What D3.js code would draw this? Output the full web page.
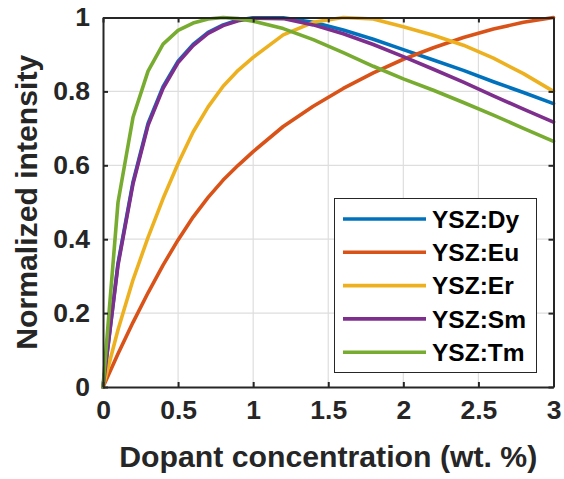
<!DOCTYPE html>
<html>
<head>
<meta charset="utf-8">
<script src="https://cdn.jsdelivr.net/npm/d3@7/dist/d3.min.js"></script>
<style>
  html, body { margin: 0; padding: 0; background: #fff; }
  svg { display: block; }
  text { font-family: "Liberation Sans", Arial, Helvetica, sans-serif; font-weight: bold; }
</style>
</head>
<body>
<svg id="chart" width="564" height="479"></svg>
<script>
// ---- data ----
const xValues = [0, 0.1, 0.2, 0.3, 0.4, 0.5, 0.6, 0.7, 0.8, 0.9, 1.0, 1.2, 1.4, 1.6, 1.8, 2.0, 2.2, 2.4, 2.6, 2.8, 3.0];
const dyValues = [0, 0.335, 0.555, 0.713, 0.813, 0.882, 0.927, 0.96, 0.98, 0.993, 0.999, 0.999, 0.987, 0.966, 0.941, 0.913, 0.885, 0.857, 0.826, 0.797, 0.767];
const euValues = [0, 0.09, 0.175, 0.255, 0.33, 0.398, 0.46, 0.513, 0.56, 0.60, 0.637, 0.705, 0.76, 0.808, 0.85, 0.887, 0.918, 0.946, 0.969, 0.987, 1.0];
const erValues = [0, 0.155, 0.29, 0.405, 0.51, 0.605, 0.69, 0.758, 0.814, 0.857, 0.892, 0.953, 0.987, 1.0, 0.996, 0.975, 0.952, 0.925, 0.89, 0.848, 0.80];
const smValues = [0, 0.33, 0.55, 0.708, 0.808, 0.878, 0.924, 0.957, 0.978, 0.991, 0.998, 0.997, 0.98, 0.956, 0.927, 0.894, 0.86, 0.825, 0.788, 0.752, 0.717];
const tmValues = [0, 0.50, 0.73, 0.855, 0.928, 0.965, 0.985, 0.996, 1.0, 0.997, 0.99, 0.97, 0.94, 0.905, 0.868, 0.834, 0.803, 0.77, 0.736, 0.70, 0.665];
const seriesNames = ["YSZ:Dy", "YSZ:Eu", "YSZ:Er", "YSZ:Sm", "YSZ:Tm"];
const seriesColors = ["#0072BD", "#D95319", "#EDB120", "#7E2F8E", "#77AC30"];
const xTicks = [0, 0.5, 1, 1.5, 2, 2.5, 3];
const xTickLabels = ["0", "0.5", "1", "1.5", "2", "2.5", "3"];
const yTicks = [0, 0.2, 0.4, 0.6, 0.8, 1];
const yTickLabels = ["0", "0.2", "0.4", "0.6", "0.8", "1"];
const xLabel = "Dopant concentration (wt. %)";
const yLabel = "Normalized intensity";

const allSeries = [dyValues, euValues, erValues, smValues, tmValues];

// ---- layout ----
const margin = { left: 103, top: 17.5, right: 564 - 553.5, bottom: 479 - 387 };
const W = 564, H = 479;
const svg = d3.select("#chart");
const x = d3.scaleLinear().domain([0, 3]).range([margin.left, W - margin.right]);
const y = d3.scaleLinear().domain([0, 1]).range([H - margin.bottom, margin.top]);
const axisColor = "#262626";

// grid
const grid = svg.append("g");
grid.selectAll(".gx").data(xTicks.slice(1, -1)).enter().append("line")
  .attr("x1", d => x(d)).attr("x2", d => x(d))
  .attr("y1", y(0)).attr("y2", y(1))
  .attr("stroke", "#dedede").attr("stroke-width", 1.2);
grid.selectAll(".gy").data(yTicks.slice(1, -1)).enter().append("line")
  .attr("y1", d => y(d)).attr("y2", d => y(d))
  .attr("x1", x(0)).attr("x2", x(3))
  .attr("stroke", "#dedede").attr("stroke-width", 1.2);

// lines
const line = d3.line().x((d, i) => x(xValues[i])).y(d => y(d));
const linesG = svg.append("g");
allSeries.forEach((vals, k) => {
  linesG.append("path")
    .datum(vals)
    .attr("d", line)
    .attr("fill", "none")
    .attr("stroke", seriesColors[k])
    .attr("stroke-width", 3.6)
    .attr("stroke-linejoin", "round")
    .attr("stroke-linecap", "round");
});

// axes
function styleAxis(g) {
  g.selectAll(".domain").attr("stroke", axisColor).attr("stroke-width", 2);
  g.selectAll(".tick line").attr("stroke", axisColor).attr("stroke-width", 2);
  g.selectAll("text").attr("fill", axisColor);
}
const xAxis = d3.axisBottom(x).tickValues(xTicks).tickFormat((d, i) => xTickLabels[i])
  .tickSizeInner(-5).tickSizeOuter(0).tickPadding(13);
const gx = svg.append("g").attr("transform", `translate(0,${y(0)})`).call(xAxis);
gx.selectAll("text").attr("font-size", 26.5).attr("font-family", "Liberation Sans, Arial, sans-serif").attr("font-weight", "bold");
styleAxis(gx);

const xAxisTop = d3.axisTop(x).tickValues(xTicks).tickFormat("").tickSizeInner(-5).tickSizeOuter(0);
const gxt = svg.append("g").attr("transform", `translate(0,${y(1)})`).call(xAxisTop);
styleAxis(gxt);

const yAxis = d3.axisLeft(y).tickValues(yTicks).tickFormat((d, i) => yTickLabels[i])
  .tickSizeInner(-5).tickSizeOuter(0).tickPadding(13);
const gy = svg.append("g").attr("transform", `translate(${x(0)},0)`).call(yAxis);
gy.selectAll("text").attr("font-size", 26.5).attr("font-family", "Liberation Sans, Arial, sans-serif").attr("font-weight", "bold");
styleAxis(gy);

const yAxisRight = d3.axisRight(y).tickValues(yTicks).tickFormat("").tickSizeInner(-5).tickSizeOuter(0);
const gyr = svg.append("g").attr("transform", `translate(${x(3)},0)`).call(yAxisRight);
styleAxis(gyr);

gx.selectAll(".tick text").attr("dy", "0.71em");

// axis labels
svg.append("text")
  .attr("x", (x(0) + x(3)) / 2).attr("y", 467)
  .attr("text-anchor", "middle")
  .attr("font-size", 29).attr("fill", axisColor)
  .attr("textLength", 418).attr("lengthAdjust", "spacingAndGlyphs")
  .text(xLabel);
svg.append("text")
  .attr("transform", `translate(37,${(y(0) + y(1)) / 2}) rotate(-90)`)
  .attr("text-anchor", "middle")
  .attr("font-size", 29).attr("fill", axisColor)
  .attr("textLength", 295).attr("lengthAdjust", "spacingAndGlyphs")
  .text(yLabel);

// legend
const leg = svg.append("g");
leg.append("rect")
  .attr("x", 334.5).attr("y", 198.5).attr("width", 202).attr("height", 174)
  .attr("fill", "#fff").attr("stroke", axisColor).attr("stroke-width", 1);
seriesNames.forEach((name, k) => {
  const cy = 219 + k * 33.3;
  leg.append("line")
    .attr("x1", 343).attr("x2", 426).attr("y1", cy).attr("y2", cy)
    .attr("stroke", seriesColors[k]).attr("stroke-width", 3.6);
  leg.append("text")
    .attr("x", 432).attr("y", cy).attr("dy", "0.36em")
    .attr("font-size", 24.5).attr("fill", "#000")
    .text(name);
});
</script>
</body>
</html>
